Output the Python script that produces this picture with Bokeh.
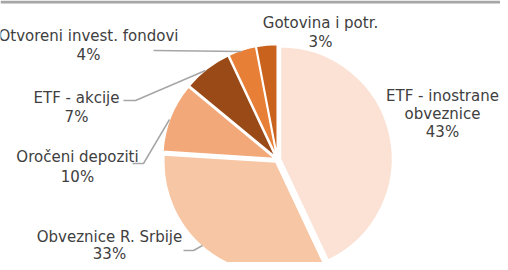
import numpy as np
from bokeh.plotting import figure
from bokeh.models import Range1d, ColumnDataSource, BoxAnnotation
from bokeh.core.properties import value
from bokeh.embed import file_html
from bokeh.resources import INLINE

# ---- data ----
categories = ["ETF - inostrane obveznice", "Obveznice R. Srbije", "Oročeni depoziti",
              "ETF - akcije", "Otvoreni invest. fondovi", "Gotovina i potr."]
shares = [43, 33, 10, 7, 4, 3]
colors = ["#FBE2D5", "#F7C6A4", "#F2A878", "#9A4A16", "#E87F37", "#C9621D"]
label_names = [["ETF - inostrane", "obveznice"], ["Obveznice R. Srbije"], ["Oročeni depoziti"],
               ["ETF - akcije"], ["Otvoreni invest. fondovi"], ["Gotovina i potr."]]

# ---- layout (reference pixel coordinates, y downward) ----
FW, FH = 500, 262
H = 270
cx, cy, r, explode = 277, 159, 112, 3
label_pos = [(442, 95, 18), (109, 236, 17), (77, 156, 20), (76, 97, 19), (88, 35, 19), (320, 22, 19)]
leaders = [
    None,
    [(183, 250), (193, 250), (202, 245)],
    [(132, 163), (143, 163), (169, 119)],
    [(123, 100), (135, 100), (205, 70)],
    [(153, 50), (241, 51)],
    None,
]

frac = np.array(shares, dtype=float) / sum(shares)
cum = np.concatenate([[0.0], np.cumsum(frac)]) * 2 * np.pi
t1, t2 = cum[:-1], cum[1:]
mid = (t1 + t2) / 2
wx = cx + explode * np.sin(mid)
wy = H - (cy - explode * np.cos(mid))

src = ColumnDataSource(dict(x=wx, y=wy, start=np.pi / 2 - t2, end=np.pi / 2 - t1,
                            color=colors, name=categories))

p = figure(width=FW, height=FH, output_backend="svg", toolbar_location=None,
           x_range=Range1d(0, FW), y_range=Range1d(H - FH, H), min_border=0)
p.axis.visible = False
p.grid.visible = False
p.outline_line_color = None
p.background_fill_color = "white"
p.border_fill_color = "white"

# thin grey frame edge at the top
p.add_layout(BoxAnnotation(left=0, right=FW, bottom=H - 3, top=H,
                           fill_color="#A6A6A6", fill_alpha=1, line_color=None))

p.wedge(x="x", y="y", radius=r, start_angle="start", end_angle="end",
        fill_color="color", line_color="white", line_width=1.5, source=src)

for pts in leaders:
    if pts is None:
        continue
    p.line([q[0] for q in pts], [H - q[1] for q in pts], line_color="#A6A6A6", line_width=1.5)

tx, ty, tt = [], [], []
for names, s, (lx, ly, dy) in zip(label_names, shares, label_pos):
    lines = names + [f"{s}%"]
    for i, t in enumerate(lines):
        tx.append(lx)
        ty.append(H - (ly + i * dy))
        tt.append(t)
p.text(x=tx, y=ty, text=tt, text_align="center", text_baseline="middle",
       text_font=value("DejaVu Sans"), text_font_size="15px", text_color="#404040")

open("out.html", "w").write(file_html(p, INLINE))
